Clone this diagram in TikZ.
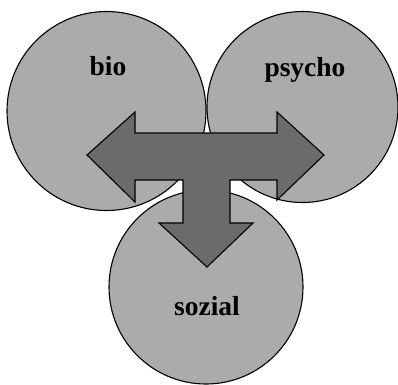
\documentclass[tikz,border=0pt]{standalone}
\usepackage{fontspec}
\setmainfont{Liberation Serif}
\tikzset{
	kreis/.style={circle, draw, line width=1.1pt, fill=kreisgrau, inner sep=0pt},
	wort/.style={font=\bfseries\fontsize{27.5}{32}\selectfont, anchor=base},
	pfeil/.style={draw, line width=1.1pt, fill=pfeilgrau, line join=miter}
}
\definecolor{kreisgrau}{gray}{0.67}
\definecolor{pfeilgrau}{gray}{0.42}
\begin{document}
\begin{tikzpicture}[x=1pt, y=-1pt]
			\useasboundingbox (0,0) rectangle (398,384);
			\draw 
			(106.5,111) node[kreis, minimum size=199pt](bio){}
			(302.5,107) node[kreis, minimum size=191pt](psycho){}
			(206,287) node[kreis, minimum size=194pt](sozial){};
			\draw 
			(108,75) node[wort]{bio} (305,76) node[wort]{psycho} (207,315) node[wort]{sozial};
			
			% T-Pfeil
			\draw[pfeil] (87,155) -- (135,112) -- (135,133) -- (277,133) -- (277,112) -- (324,155)
			-- (277,200) -- (277,180) -- (230,180) -- (230,223) -- (253,223) -- (207,267)
			-- (159,223) -- (183,223) -- (183,180) -- (135,180) -- (135,202) -- cycle;
			
		\end{tikzpicture}
\end{document}
